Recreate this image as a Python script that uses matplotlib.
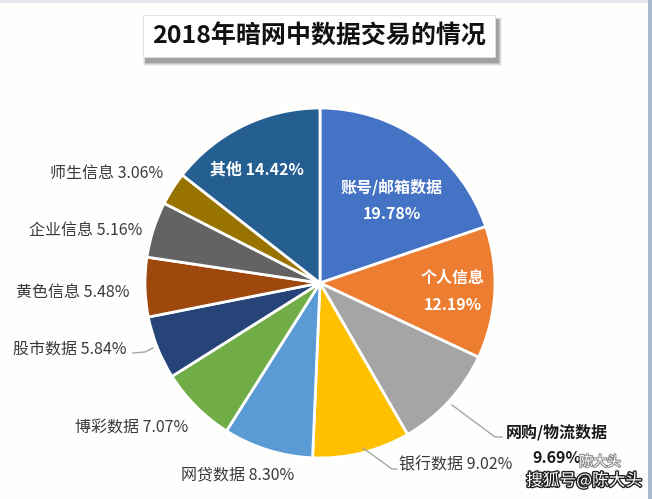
import matplotlib
matplotlib.use('Agg')
import matplotlib.pyplot as plt
import matplotlib.patheffects as pe
from matplotlib.patches import Rectangle

plt.rcParams['font.family'] = ['Noto Sans CJK SC', 'DejaVu Sans']

# data, clockwise from 12 o'clock
labels = ['账号/邮箱数据', '个人信息', '网购/物流数据', '银行数据', '网贷数据', '博彩数据',
          '股市数据', '黄色信息', '企业信息', '师生信息', '其他']
values = [19.78, 12.19, 9.69, 9.02, 8.30, 7.07, 5.84, 5.48, 5.16, 3.06, 14.42]
colors = ['#4472C4', '#ED7D31', '#A5A5A5', '#FFC000', '#5B9BD5', '#70AD47',
          '#264478', '#9E480E', '#636363', '#997300', '#255E91']

W, H = 652, 499
fig = plt.figure(figsize=(W / 100, H / 100), dpi=100)
fig.patch.set_facecolor('#FEFEFC')
ax = fig.add_axes([0, 0, 1, 1])
ax.set_xlim(0, W)
ax.set_ylim(0, H)
ax.set_aspect('equal')
ax.axis('off')


def Y(y):
    # pixel row (from top) -> data y
    return H - y


# pie
cx, cy, r = 320, 283, 175
ax.pie(values, colors=colors, startangle=90, counterclock=False,
       center=(cx, Y(cy)), radius=r, frame=True,
       wedgeprops=dict(edgecolor='white', linewidth=2))
ax.set_xlim(0, W)
ax.set_ylim(0, H)
ax.axis('off')

# frame details
ax.add_patch(Rectangle((0, Y(3)), W, 3, color='#E6EAEE', lw=0, zorder=0))
ax.add_patch(Rectangle((W - 4, 0), 4, H, color='#A9BCCF', lw=0, zorder=0))

# title box with soft shadow
bx0, by0, bx1, by1 = 143, 15, 495, 57
for k, a in zip([7, 5, 3, 1.5], [0.06, 0.08, 0.12, 0.16]):
    ax.add_patch(Rectangle((bx0 + 3 - k / 2, Y(by1 + 5 + k / 2)), bx1 - bx0 + k, by1 - by0 + k,
                           color='black', alpha=a, lw=0, zorder=3))
ax.add_patch(Rectangle((bx0, Y(by1)), bx1 - bx0, by1 - by0, facecolor='white',
                       edgecolor='#E0E0E0', lw=0.6, zorder=4))
ax.text((bx0 + bx1) / 2, Y(37), '2018年暗网中数据交易的情况', ha='center', va='center',
        fontsize=18, fontweight='bold', color='#111111', zorder=5)

# inside labels
inside = {0: (392, 187, 214), 1: (453, 278, 305)}
for i, (x, y1, y2) in inside.items():
    ax.text(x, Y(y1), labels[i], ha='center', va='center', fontsize=11.5,
            fontweight='bold', color='white')
    ax.text(x, Y(y2), f'{values[i]:.2f}%', ha='center', va='center', fontsize=11.5,
            fontweight='bold', color='white')
ax.text(257, Y(170), f'{labels[10]} {values[10]:.2f}%', ha='center', va='center',
        fontsize=11.5, fontweight='bold', color='white')

# outside labels
outside = {3: (456, 465), 4: (238, 475), 5: (132, 427), 6: (70, 350),
           7: (73, 292), 8: (86, 230), 9: (107, 173)}
for i, (x, y) in outside.items():
    ax.text(x, Y(y), f'{labels[i]} {values[i]:.2f}%', ha='center', va='center',
            fontsize=11.5, color='#3A3A3A')

ax.text(557, Y(432), labels[2], ha='center', va='center', fontsize=11.5,
        fontweight='bold', color='#1A1A1A')
ax.text(557, Y(458), f'{values[2]:.2f}%', ha='center', va='center', fontsize=11.5,
        fontweight='bold', color='#1A1A1A')

# leader lines
lc = '#A6A6A6'
ax.plot([452, 495, 502], [Y(405), Y(437), Y(437)], color=lc, lw=1)
ax.plot([363, 392, 397], [Y(448), Y(469), Y(469)], color=lc, lw=1)
ax.plot([133, 145, 153], [Y(353), Y(352), Y(348)], color=lc, lw=1)

# watermark
ax.text(600, Y(462), '陈大头', ha='center', va='center', fontsize=10, color='white',
        path_effects=[pe.withStroke(linewidth=1.5, foreground='#888888')])
ax.text(584, Y(481), '搜狐号@陈大头', ha='center', va='center', fontsize=12,
        color='white', path_effects=[pe.withStroke(linewidth=2, foreground='#222222')])

fig.savefig('out.png', dpi=100, facecolor=fig.get_facecolor())
